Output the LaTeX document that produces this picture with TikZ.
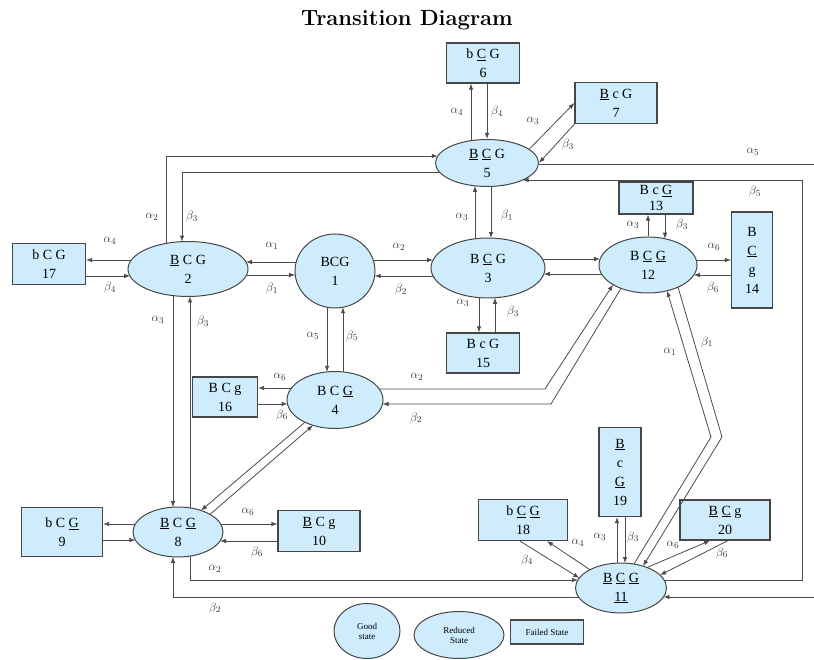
\documentclass[tikz,border=0pt]{standalone}
\usepackage{fontspec}
\newfontfamily\tnr{Liberation Serif}
\usetikzlibrary{shapes.geometric,arrows.meta,calc}
\definecolor{nodefill}{RGB}{206,236,252}
\definecolor{edgec}{RGB}{70,70,70}
\definecolor{linec}{RGB}{75,75,75}
\begin{document}
\begin{tikzpicture}[x=1pt,y=-1pt,
 st/.style={ellipse,draw=edgec,fill=nodefill,line width=1pt,inner sep=0pt,align=center,font=\tnr\fontsize{14}{19}\selectfont},
 fs/.style={rectangle,draw=edgec,fill=nodefill,line width=1.2pt,inner sep=0pt,align=center,font=\tnr\fontsize{14}{19}\selectfont},
 con/.style={draw=linec,line width=0.8pt,-{Latex[length=6pt,width=4.5pt]}},
 plain/.style={draw=linec,line width=0.8pt},
 lab/.style={font=\fontsize{13}{13}\selectfont,text=black!80,inner sep=0pt},
 legt/.style={font=\tnr\fontsize{9}{10}\selectfont}]
\useasboundingbox (0,0) rectangle (814,660);
\node[font=\fontsize{22}{26}\selectfont\bfseries] (title) at (407,20) {Transition Diagram};

% reduced / good states
\node[st,minimum width=80pt,minimum height=74pt] (n1) at (335,271) {BCG\\1};
\node[st,minimum width=120pt,minimum height=55pt] (n2) at (188,269) {\underline{B} C G\\2};
\node[st,minimum width=114pt,minimum height=60pt] (n3) at (488,268) {B \underline{C} G\\3};
\node[st,minimum width=96pt,minimum height=57pt] (n4) at (335,400) {B C \underline{G}\\4};
\node[st,minimum width=103pt,minimum height=47pt] (n5) at (487,163) {\underline{B} \underline{C} G\\5};
\node[st,minimum width=90pt,minimum height=50pt] (n8) at (178,532) {\underline{B} C \underline{G}\\8};
\node[st,minimum width=91pt,minimum height=50pt] (n11) at (621,588) {\underline{B} \underline{C} \underline{G}\\\underline{11}};
\node[st,minimum width=98pt,minimum height=56pt] (n12) at (648,265) {B \underline{C} \underline{G}\\12};

% failed states
\node[fs,minimum width=73pt,minimum height=40pt] (n6) at (483,63) {b \underline{C} G\\6};
\node[fs,minimum width=82pt,minimum height=41pt] (n7) at (616,103) {\underline{B} c G\\7};
\node[fs,minimum width=81pt,minimum height=49pt] (n9) at (62,532) {b C \underline{G}\\9};
\node[fs,minimum width=82pt,minimum height=41pt] (n10) at (319,531) {\underline{B} C g\\10};
\node[fs,minimum width=74pt,minimum height=32pt] (n13) at (656,198) {B c \underline{G}\\[-3pt]13};
\node[fs,minimum width=41pt,minimum height=96pt] (n14) at (752,260) {B\\\underline{C}\\g\\14};
\node[fs,minimum width=73pt,minimum height=40pt] (n15) at (483,353) {B c G\\15};
\node[fs,minimum width=65pt,minimum height=40pt] (n16) at (225,397) {B C g\\16};
\node[fs,minimum width=73pt,minimum height=41pt] (n17) at (49,264) {b C G\\17};
\node[fs,minimum width=89pt,minimum height=41pt] (n18) at (523,520) {b \underline{C} \underline{G}\\18};
\node[fs,minimum width=42pt,minimum height=89pt] (n19) at (620,472) {\underline{B}\\c\\\underline{G}\\19};
\node[fs,minimum width=90pt,minimum height=40pt] (n20) at (725,520) {\underline{B} \underline{C} g\\20};

% legend
\node[st,legt,minimum width=66pt,minimum height=55pt] (lg) at (367,631) {Good\\state};
\node[st,legt,minimum width=90pt,minimum height=47pt] (lr) at (459,635) {Reduced\\State};
\node[fs,legt,minimum width=73pt,minimum height=24pt] (lf) at (547,632) {Failed State};

% 2-17
\draw[con] ($(n2)+(-56.7,-9)$) -- ($(n17.east)+(0,-4)$);
\draw[con] ($(n17.east)+(0,12)$) -- ($(n2)+(-58,7)$);
% 2-1
\draw[con] ($(n1)+(-38.8,-9)$) -- ($(n2)+(58,-7)$);
\draw[con] ($(n2)+(58.5,6)$) -- ($(n1)+(-39.8,4)$);
% 1-3
\draw[con] ($(n1)+(38.2,-11)$) -- ($(n3)+(-54.9,-8)$);
\draw[con] ($(n3)+(-54.9,8)$) -- ($(n1)+(39.6,5)$);
% 3-12
\draw[con] ($(n3)+(54.4,-9)$) -- ($(n12)+(-47.9,-6)$);
\draw[con] ($(n12)+(-46.4,9)$) -- ($(n3)+(55.8,6)$);
% 3-5
\draw[con] ($(n3)+(-13,-29.2)$) -- ($(n5)+(-12,22.85)$);
\draw[con] ($(n5)+(4,23.4)$) -- ($(n3)+(3,-29.96)$);
% 3-15
\draw[con] ($(n3)+(-9,29.6)$) -- ($(n15.north)+(-4,0)$);
\draw[con] ($(n15.north)+(12,0)$) -- ($(n3)+(7,29.8)$);
% 5-6
\draw[con] ($(n5)+(-16,-22.3)$) -- ($(n6.south)+(-12,0)$);
\draw[con] ($(n6.south)+(4,0)$) -- (n5.north);
% 5-7
\draw[con] ($(n5)+(42,-13.6)$) -- (n7.west);
\draw[con] (n7.south west) -- (n5.east);
% alpha5 loop (leaves the picture on the right)
\coordinate (e1) at (814,164);
\coordinate (e2) at (814,597);
\draw[plain] ($(n5)+(51.5,1)$) -- (e1);
\draw[con] (e2) -- ($(n11)+(42.4,9)$);
% beta5 loop
\draw[con] ($(n11)+(43.1,-8)$) -- (802,580) -- (802,180) -- ($(n5)+(35.6,17)$);
% 2-5
\draw[con] ($(n2)+(-22,-25.6)$) |- ($(n5)+(-49.2,-7)$);
\draw[con] ($(n5)+(-47.6,9)$) -| ($(n2)+(-6,-27.36)$);
% 2-8
\draw[con] ($(n2)+(-15,26.6)$) -- ($(n8)+(-5,-24.8)$);
\draw[con] ($(n8)+(12,-24.1)$) -- ($(n2)+(2,27.5)$);
% 1-4
\draw[con] ($(n1)+(-8,36.25)$) -- ($(n4)+(-8,-28.1)$);
\draw[con] ($(n4)+(8,-28.1)$) -- ($(n1)+(8,36.25)$);
% 4-16
\draw[con] ($(n4)+(-43.5,-12)$) -- ($(n16.east)+(0,-9)$);
\draw[con] ($(n16.east)+(0,7)$) -- ($(n4)+(-47.5,4)$);
% 4-12
\draw[con] ($(n4)+(44.3,-11)$) -- (545,389) -- ($(n12)+(-35,19.6)$);
\draw[con] ($(n12)+(-27,23.4)$) -- (551,404) -- ($(n4)+(47.5,4)$);
% 12-13
\draw[con] (n12.north) -- ($(n13.south)+(-8,0)$);
\draw[con] ($(n13.south)+(9,0)$) -- ($(n12)+(17,-26.26)$);
% 12-14
\draw[con] ($(n12)+(48.2,-5)$) -- (n14.west);
\draw[con] ($(n14.west)+(0,15)$) -- ($(n12)+(45.8,10)$);
% 12-11
\draw[con] ($(n11)+(13,-23.96)$) -- (711,437) -- ($(n12)+(19,25.8)$);
\draw[con] ($(n12)+(30,22.1)$) -- (722,437) -- ($(n11)+(22,-21.9)$);
% 11-18
\draw[con] ($(n11)+(-31,-18.3)$) -- ($(n18.south)+(24,0)$);
\draw[con] ($(n18.south)+(-3,0)$) -- ($(n11)+(-41.7,-10)$);
% 11-19
\draw[con] ($(n11)+(-4,-24.9)$) -- ($(n19.south)+(-3,0)$);
\draw[con] ($(n19.south)+(5,0)$) -- ($(n11)+(4,-24.9)$);
% 11-20
\draw[con] ($(n11)+(26,-20.5)$) -- ($(n20.south)+(-15,0)$);
\draw[con] ($(n20.south)+(3,0)$) -- ($(n11)+(39,-12.9)$);
% 8-9
\draw[con] ($(n8)+(-42.6,-8)$) -- ($(n9.east)+(0,-8)$);
\draw[con] ($(n9.east)+(0,8)$) -- ($(n8)+(-42.6,8)$);
% 8-10
\draw[con] ($(n8)+(42.6,-8)$) -- ($(n10.west)+(0,-7)$);
\draw[con] ($(n10.west)+(0,10)$) -- ($(n8)+(42,9)$);
% 8-4
\draw[con] ($(n4)+(-30,22.2)$) -- ($(n8)+(23,-21.5)$);
\draw[con] ($(n8)+(32,-17.6)$) -- ($(n4)+(-22,25.3)$);
% 8-11
\draw[con] ($(n8)+(12,24.1)$) |- ($(n11)+(-43.1,-8)$);
\draw[con] ($(n11)+(-42.4,9)$) -| ($(n8)+(-5,24.8)$);

% labels
\node[lab] (la1) at (110,241) {$\alpha_4$};
\node[lab] (la2) at (110,288) {$\beta_4$};
\node[lab] (la3) at (272,246) {$\alpha_1$};
\node[lab] (la4) at (272,289) {$\beta_1$};
\node[lab] (la5) at (399,247) {$\alpha_2$};
\node[lab] (la6) at (401,290) {$\beta_2$};
\node[lab] (la7) at (462,217) {$\alpha_3$};
\node[lab] (la8) at (507,216) {$\beta_1$};
\node[lab] (la9) at (463,303) {$\alpha_3$};
\node[lab] (la10) at (513,312) {$\beta_3$};
\node[lab] (la11) at (457,112) {$\alpha_4$};
\node[lab] (la12) at (497,112) {$\beta_4$};
\node[lab] (la13) at (533,121) {$\alpha_3$};
\node[lab] (la14) at (568,145) {$\beta_3$};
\node[lab] (la15) at (753,152) {$\alpha_5$};
\node[lab] (la16) at (755,192) {$\beta_5$};
\node[lab] (la17) at (152,217) {$\alpha_2$};
\node[lab] (la18) at (192,217) {$\beta_3$};
\node[lab] (la19) at (158,320) {$\alpha_3$};
\node[lab] (la20) at (203,322) {$\beta_3$};
\node[lab] (la21) at (313,336) {$\alpha_5$};
\node[lab] (la22) at (352,336) {$\beta_5$};
\node[lab] (la23) at (280,377) {$\alpha_6$};
\node[lab] (la24) at (282,415) {$\beta_6$};
\node[lab] (la25) at (417,377) {$\alpha_2$};
\node[lab] (la26) at (416,418) {$\beta_2$};
\node[lab] (la27) at (633,225) {$\alpha_3$};
\node[lab] (la28) at (682,225) {$\beta_3$};
\node[lab] (la29) at (714,247) {$\alpha_6$};
\node[lab] (la30) at (713,288) {$\beta_6$};
\node[lab] (la31) at (670,352) {$\alpha_1$};
\node[lab] (la32) at (707,342) {$\beta_1$};
\node[lab] (la33) at (578,543) {$\alpha_4$};
\node[lab] (la34) at (527,560) {$\beta_4$};
\node[lab] (la35) at (600,537) {$\alpha_3$};
\node[lab] (la36) at (633,537) {$\beta_3$};
\node[lab] (la37) at (673,545) {$\alpha_6$};
\node[lab] (la38) at (722,553) {$\beta_6$};
\node[lab] (la39) at (248,512) {$\alpha_6$};
\node[lab] (la40) at (257,552) {$\beta_6$};
\node[lab] (la41) at (215,569) {$\alpha_2$};
\node[lab] (la42) at (215,608) {$\beta_2$};
\end{tikzpicture}
\end{document}
